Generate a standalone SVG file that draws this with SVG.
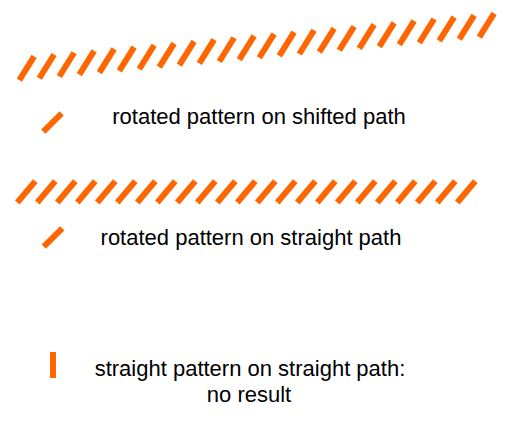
<svg xmlns="http://www.w3.org/2000/svg" xmlns:xlink="http://www.w3.org/1999/xlink" width="516" height="430" viewBox="0 0 516 430">
<style>
.d{fill:#ff6600}
.t{font-family:"Liberation Sans",Arial,sans-serif;font-size:22px;fill:#000;text-anchor:middle}
</style>
<defs>
<rect id="a" class="d" x="-3" y="-14" width="6" height="28" transform="rotate(32)"/>
<rect id="b" class="d" x="-3" y="-14" width="6" height="28" transform="rotate(40)"/>
<rect id="c" class="d" x="-3" y="-13" width="6" height="26" transform="rotate(45)"/>
</defs>
<rect width="516" height="430" fill="#fff"/>
<g id="row1">
<use href="#a" transform="translate(26.7,68.3)"/>
<use href="#a" transform="translate(46.7,66.4)"/>
<use href="#a" transform="translate(66.7,64.6)"/>
<use href="#a" transform="translate(86.7,62.7)"/>
<use href="#a" transform="translate(106.7,60.8)"/>
<use href="#a" transform="translate(126.7,59.0)"/>
<use href="#a" transform="translate(146.7,57.1)"/>
<use href="#a" transform="translate(166.7,55.2)"/>
<use href="#a" transform="translate(186.7,53.3)"/>
<use href="#a" transform="translate(206.7,51.5)"/>
<use href="#a" transform="translate(226.7,49.6)"/>
<use href="#a" transform="translate(246.7,47.7)"/>
<use href="#a" transform="translate(266.7,45.9)"/>
<use href="#a" transform="translate(286.7,44.0)"/>
<use href="#a" transform="translate(306.7,42.1)"/>
<use href="#a" transform="translate(326.7,40.3)"/>
<use href="#a" transform="translate(346.7,38.4)"/>
<use href="#a" transform="translate(366.7,36.5)"/>
<use href="#a" transform="translate(386.7,34.7)"/>
<use href="#a" transform="translate(406.7,32.8)"/>
<use href="#a" transform="translate(426.7,30.9)"/>
<use href="#a" transform="translate(446.7,29.0)"/>
<use href="#a" transform="translate(466.7,27.2)"/>
<use href="#a" transform="translate(486.7,25.3)"/>
</g>
<g id="legend1">
<use href="#c" transform="translate(52.5,122.5)"/>
<text class="t" x="259" y="124">rotated pattern on shifted path</text>
</g>
<g id="row2">
<use href="#b" transform="translate(26.3,191.8)"/>
<use href="#b" transform="translate(46.3,191.8)"/>
<use href="#b" transform="translate(66.3,191.8)"/>
<use href="#b" transform="translate(86.3,191.8)"/>
<use href="#b" transform="translate(106.3,191.8)"/>
<use href="#b" transform="translate(126.3,191.8)"/>
<use href="#b" transform="translate(146.3,191.8)"/>
<use href="#b" transform="translate(166.3,191.8)"/>
<use href="#b" transform="translate(186.3,191.8)"/>
<use href="#b" transform="translate(206.3,191.8)"/>
<use href="#b" transform="translate(226.3,191.8)"/>
<use href="#b" transform="translate(246.3,191.8)"/>
<use href="#b" transform="translate(266.3,191.8)"/>
<use href="#b" transform="translate(286.3,191.8)"/>
<use href="#b" transform="translate(306.3,191.8)"/>
<use href="#b" transform="translate(326.3,191.8)"/>
<use href="#b" transform="translate(346.3,191.8)"/>
<use href="#b" transform="translate(366.3,191.8)"/>
<use href="#b" transform="translate(386.3,191.8)"/>
<use href="#b" transform="translate(406.3,191.8)"/>
<use href="#b" transform="translate(426.3,191.8)"/>
<use href="#b" transform="translate(446.3,191.8)"/>
<use href="#b" transform="translate(466.3,191.8)"/>
</g>
<g id="legend2">
<use href="#c" transform="translate(53,237.5)"/>
<text class="t" x="251" y="245">rotated pattern on straight path</text>
</g>
<g id="legend3">
<rect class="d" x="50" y="352" width="6" height="26"/>
<text class="t" x="250" y="376">straight pattern on straight path:</text>
<text class="t" x="249" y="402">no result</text>
</g>
</svg>
